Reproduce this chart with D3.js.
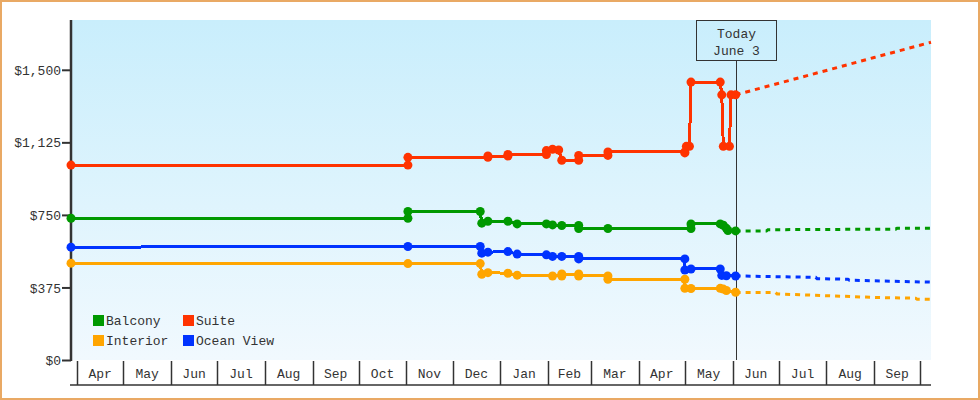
<!DOCTYPE html>
<html><head><meta charset="utf-8">
<script src="https://cdn.jsdelivr.net/npm/d3@7"></script>
<style>
body{margin:0;background:#fff}
svg{display:block}
text{font-family:"Liberation Mono","DejaVu Sans Mono",monospace;font-size:13px;fill:#333}
</style></head>
<body><svg id="chart" width="980" height="400"></svg>
<script>
// ---------- DATA ----------
const seriesNames = ["Balcony", "Suite", "Interior", "Ocean View"];

const suitePrices = [
  ["2024-03-28",1010],["2024-11-02",1010],["2024-11-02",1050],["2024-12-24",1050],["2024-12-24",1057],
  ["2025-01-06",1057],["2025-01-06",1065],["2025-01-31",1065],["2025-01-31",1085],["2025-02-04",1092],
  ["2025-02-08",1088],["2025-02-10",1035],["2025-02-21",1035],["2025-02-21",1060],["2025-03-12",1060],
  ["2025-03-12",1078],["2025-05-01",1078],["2025-05-01",1073],["2025-05-02",1107],["2025-05-04",1107],
  ["2025-05-05",1439],["2025-05-24",1439],["2025-05-25",1373],["2025-05-26",1107],["2025-05-30",1107],
  ["2025-05-31",1373],["2025-06-03",1373]
];
const balconyPrices = [
  ["2024-03-28",735],["2024-11-02",735],["2024-11-02",770],["2024-12-19",770],["2024-12-20",710],
  ["2024-12-24",720],["2025-01-06",720],["2025-01-12",706],["2025-01-31",706],["2025-02-04",701],
  ["2025-02-10",698],["2025-02-21",698],["2025-02-21",682],["2025-03-12",682],["2025-05-05",682],
  ["2025-05-05",706],["2025-05-24",706],["2025-05-26",699],["2025-05-28",683],["2025-05-29",672],
  ["2025-06-03",670]
];
const oceanViewPrices = [
  ["2024-03-28",586],["2024-11-02",589],["2024-12-19",589],["2024-12-20",555],["2024-12-24",560],
  ["2025-01-06",563],["2025-01-12",550],["2025-01-31",546],["2025-02-04",538],["2025-02-10",538],
  ["2025-02-21",538],["2025-02-21",525],["2025-05-01",525],["2025-05-01",468],["2025-05-05",473],
  ["2025-05-24",473],["2025-05-25",440],["2025-05-28",438],["2025-06-03",437]
];
const interiorPrices = [
  ["2024-03-28",503],["2024-11-02",501],["2024-12-19",501],["2024-12-20",446],["2024-12-24",454],
  ["2025-01-06",451],["2025-01-12",441],["2025-02-04",437],["2025-02-10",437],["2025-02-10",447],
  ["2025-02-21",447],["2025-02-21",437],["2025-03-12",437],["2025-03-12",420],["2025-05-01",420],
  ["2025-05-01",373],["2025-05-05",372],["2025-05-24",373],["2025-05-26",369],["2025-05-28",362],
  ["2025-06-03",353]
];

const suiteForecast = [["2025-06-03",1373],["2025-07-01",1433],["2025-08-01",1499],["2025-09-01",1566],["2025-10-08",1645]];
const balconyForecast = [["2025-06-03",670],["2025-06-23",670],["2025-06-24",676],["2025-09-15",679],["2025-09-16",684],["2025-10-08",684]];
const oceanViewForecast = [["2025-06-03",437],["2025-07-25",430],["2025-07-26",423],["2025-08-15",420],["2025-08-16",415],["2025-10-08",405]];
const interiorForecast = [["2025-06-03",351],["2025-06-29",351],["2025-06-30",344],["2025-08-01",335],["2025-09-01",326],["2025-09-28",322],["2025-09-29",317],["2025-10-08",316]];

const monthStarts = ["2024-04-01","2024-05-01","2024-06-01","2024-07-01","2024-08-01","2024-09-01",
  "2024-10-01","2024-11-01","2024-12-01","2025-01-01","2025-02-01","2025-03-01","2025-04-01",
  "2025-05-01","2025-06-01","2025-07-01","2025-08-01","2025-09-01","2025-10-01"];
const monthLabels = ["Apr","May","Jun","Jul","Aug","Sep","Oct","Nov","Dec","Jan","Feb","Mar","Apr","May","Jun","Jul","Aug","Sep"];
const yTicks = [0, 375, 750, 1125, 1500];
const dateRange = ["2024-03-28", "2025-10-08"];
const todayDate = "2025-06-03";
const todayLabel = ["Today", "June 3"];

// ---------- STYLE ----------
const colors = {"Balcony":"#009900","Suite":"#ff3300","Interior":"#ffa500","Ocean View":"#0033ff"};
const ink = "#333";

// ---------- CHART ----------
(function(){
const parse = d3.utcParse("%Y-%m-%d");
const svg = d3.select("#chart");

svg.append("rect").attr("x",1).attr("y",1).attr("width",978).attr("height",398)
  .attr("fill","#fff").attr("stroke","#e9a964").attr("stroke-width",2);

const pL = 71, pR = 931, pT = 20, pB = 360;
const x = d3.scaleUtc().domain(dateRange.map(parse)).range([pL, pR]);
const y = d3.scaleLinear().domain([0, 1760]).range([360.5, pT]);

const defs = svg.append("defs");
const grad = defs.append("linearGradient").attr("id","bg").attr("x1",0).attr("y1",0).attr("x2",0).attr("y2",1);
grad.append("stop").attr("offset","0%").attr("stop-color","#c9eefc");
grad.append("stop").attr("offset","100%").attr("stop-color","#f1f9fe");
svg.append("rect").attr("x",pL).attr("y",pT).attr("width",pR-pL).attr("height",pB-pT)
  .attr("fill","url(#bg)");

// y axis
const yAxis = svg.append("g");
yAxis.append("line").attr("x1",71).attr("x2",71).attr("y1",pT).attr("y2",361)
  .attr("stroke",ink).attr("stroke-width",2.5);
const fmt = v => "$" + d3.format(",")(v);
yTicks.forEach(v => {
  yAxis.append("line").attr("x1",62).attr("x2",71).attr("y1",y(v)).attr("y2",y(v))
    .attr("stroke",ink).attr("stroke-width",2);
  yAxis.append("text").attr("x",61).attr("y",y(v)).attr("dy","0.35em")
    .attr("text-anchor","end").text(fmt(v));
});

// x axis month bands
const xAxis = svg.append("g");
xAxis.append("line").attr("x1",70).attr("x2",pR).attr("y1",385).attr("y2",385)
  .attr("stroke",ink).attr("stroke-width",1.5);
const ms = monthStarts.map(parse);
ms.forEach(d => {
  const px = Math.round(x(d)) + 0.5;
  xAxis.append("line").attr("x1",px).attr("x2",px).attr("y1",361).attr("y2",385)
    .attr("stroke",ink).attr("stroke-width",1.5);
});
monthLabels.forEach((lab,i) => {
  const cx = (x(ms[i]) + x(ms[i+1])) / 2;
  xAxis.append("text").attr("x",cx).attr("y",373).attr("dy","0.35em")
    .attr("text-anchor","middle").text(lab);
});

// today marker
const tx = Math.round(x(parse(todayDate))) + 0.5;
svg.append("line").attr("x1",tx).attr("x2",tx).attr("y1",61).attr("y2",pB)
  .attr("stroke",ink).attr("stroke-width",1);
svg.append("rect").attr("x",tx-40).attr("y",20.5).attr("width",80).attr("height",40)
  .attr("fill","none").attr("stroke",ink).attr("stroke-width",1);
svg.append("text").attr("x",tx).attr("y",33).attr("dy","0.35em").attr("text-anchor","middle").text(todayLabel[0]);
svg.append("text").attr("x",tx).attr("y",50).attr("dy","0.35em").attr("text-anchor","middle").text(todayLabel[1]);

// series
const line = d3.line().x(d => x(parse(d[0]))).y(d => y(d[1]));
const series = [
  {name:"Suite", actual:suitePrices, forecast:suiteForecast},
  {name:"Balcony", actual:balconyPrices, forecast:balconyForecast},
  {name:"Ocean View", actual:oceanViewPrices, forecast:oceanViewForecast},
  {name:"Interior", actual:interiorPrices, forecast:interiorForecast}
];
series.forEach(s => {
  const g = svg.append("g");
  g.append("path").datum(s.forecast).attr("d", line).attr("fill","none")
    .attr("stroke", colors[s.name]).attr("stroke-width",3).attr("stroke-dasharray","5,5");
  g.append("path").datum(s.actual).attr("d", line).attr("fill","none")
    .attr("stroke", colors[s.name]).attr("stroke-width",3).attr("shape-rendering","crispEdges");
  g.selectAll("circle").data(s.actual).join("circle")
    .attr("cx", d => x(parse(d[0]))).attr("cy", d => y(d[1])).attr("r",4.5)
    .attr("fill", colors[s.name]);
});

// legend
const legendPos = [[93,315],[183,315],[93,335],[183,335]];
seriesNames.forEach((n,i) => {
  const [lx,ly] = legendPos[i];
  svg.append("rect").attr("x",lx).attr("y",ly).attr("width",11).attr("height",11).attr("fill",colors[n]);
  svg.append("text").attr("x",lx+13).attr("y",ly+5.5).attr("dy","0.35em").text(n);
});
})();
</script>
</body></html>
